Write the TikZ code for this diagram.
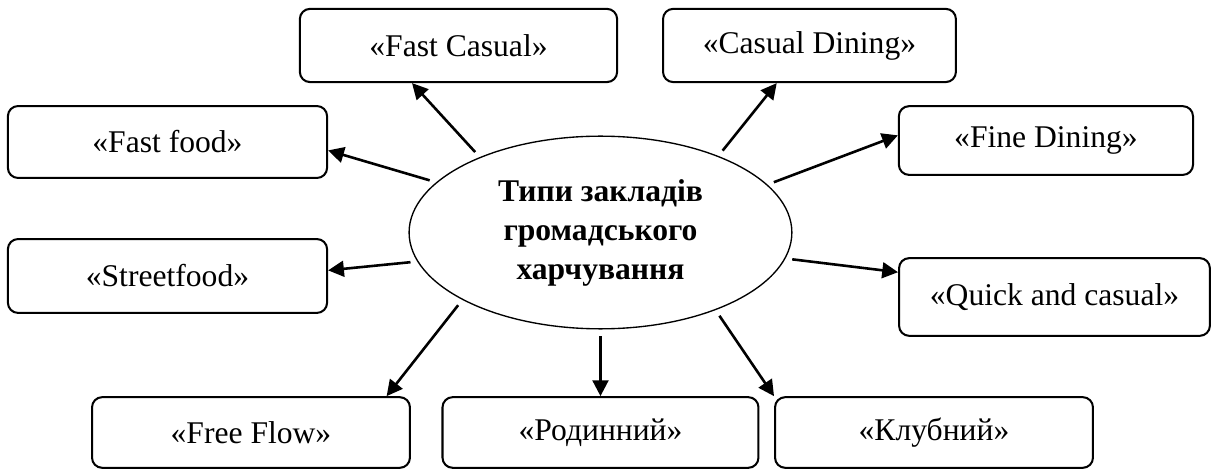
\documentclass[tikz,border=0pt]{standalone}
\usepackage{fontspec}
\setmainfont{Liberation Serif}
\usepackage{tikz}
\usetikzlibrary{shapes.geometric,arrows.meta,positioning,calc}

\begin{document}
\begin{tikzpicture}[
    >={Triangle[length=7pt,width=7pt]},
    kind/.style={draw, line width=0.9pt, rounded corners=4.5pt, fill=white, align=center, font=\fontsize{14}{17}\selectfont, inner sep=2pt, minimum height=1.12cm},
    centre/.style={draw, ellipse, line width=0.6pt, align=center, font=\fontsize{14}{17.3}\selectfont\bfseries, inner sep=0pt, minimum width=5.96cm, minimum height=3.0cm},
    arrow/.style={->, line width=1.15pt, black, shorten <=3pt}
]
    \useasboundingbox (-9.350,-3.682) rectangle (9.506,3.620);

    \node[centre] (ell) at (0, 0) {Типи закладів\\громадського\\харчування};

    % Upper boxes
    \node[kind, minimum width=4.94cm, minimum height=1.14cm] (fastcasual) at (-2.211, 2.912) {«Fast Casual»};
    \node[kind, minimum width=4.56cm, minimum height=1.14cm] (casualdining) at (3.254, 2.912) {«Casual Dining»};
    \node[kind, minimum width=4.97cm] (fastfood) at (-6.742, 1.409) {«Fast food»};
    \node[kind, minimum width=4.58cm, minimum height=1.07cm] (finedining) at (6.936, 1.432) {«Fine Dining»};

    % Middle boxes
    \node[kind, minimum width=4.97cm, minimum height=1.15cm] (streetfood) at (-6.742, -0.677) {«Streetfood»};
    \node[kind, minimum width=4.84cm, minimum height=1.21cm] (quick) at (7.069, -1.004) {«Quick and casual»};

    % Lower row
    \node[kind, minimum width=4.95cm, minimum height=1.1cm] (freeflow) at (-5.442, -3.114) {«Free Flow»};
    \node[kind, minimum width=4.92cm, minimum height=1.1cm] (rodynnyi) at (0, -3.114) {«Родинний»};
    \node[kind, minimum width=4.95cm, minimum height=1.1cm] (klubnyi) at (5.193, -3.114) {«Клубний»};

    % Arrows out of the ellipse
    \draw[arrow] (ell.148) -- (fastcasual.219.5);
    \draw[arrow] (ell.33) -- (casualdining.229);
    \draw[arrow] (ell.163) -- (fastfood.357);
    \draw[arrow] (ell.16) -- (finedining.178.6);
    \draw[arrow] (ell.189) -- (streetfood.2);
    \draw[arrow] (ell.352) -- (quick.171);
    \draw[arrow] (ell.206) -- (freeflow.15);
    \draw[arrow] (ell.south) -- (rodynnyi.north);
    \draw[arrow] (ell.326) -- (klubnyi.north west);

\end{tikzpicture}
\end{document}
